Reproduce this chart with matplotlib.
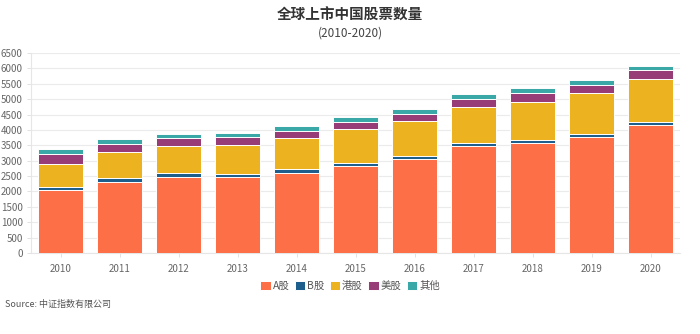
import numpy as np
import matplotlib.pyplot as plt

plt.rcParams['font.family'] = ['Noto Sans CJK SC', 'DejaVu Sans']

years = ['2010', '2011', '2012', '2013', '2014', '2015', '2016', '2017', '2018', '2019', '2020']
a_gu = [2040, 2320, 2480, 2470, 2610, 2830, 3050, 3480, 3570, 3760, 4150]
b_gu = [108, 108, 107, 106, 104, 101, 100, 100, 99, 97, 93]
gang_gu = [760, 840, 890, 950, 1010, 1090, 1130, 1170, 1250, 1330, 1420]
mei_gu = [300, 270, 250, 230, 250, 250, 250, 260, 290, 280, 300]
qita = [160, 160, 140, 150, 140, 140, 140, 160, 150, 140, 120]

series = [('A股', a_gu, '#fd6f47'),
          ('B股', b_gu, '#1d5e8c'),
          ('港股', gang_gu, '#edb21f'),
          ('美股', mei_gu, '#983c77'),
          ('其他', qita, '#3aa8a6')]

fig = plt.figure(figsize=(7, 3.34), dpi=100)
ax = fig.add_axes([31/700, 1 - 253/334, 649/700, 200/334])

x = np.arange(len(years))
bottom = np.zeros(len(years))
for name, vals, col in series:
    ax.bar(x, vals, 0.76, bottom=bottom, color=col, edgecolor='white', linewidth=0.7, label=name, zorder=3)
    bottom += np.array(vals)

ax.set_xlim(-0.5, len(years) - 0.5)
ax.set_ylim(0, 6500)
ax.set_yticks(np.arange(0, 6501, 500))
ax.set_xticks(x)
ax.set_xticklabels(years)
ax.tick_params(axis='both', labelsize=7, colors='#666666', length=3, width=0.6)
ax.tick_params(axis='y', pad=3)
ax.tick_params(axis='x', pad=5)
ax.grid(axis='y', color='#ebebeb', linewidth=0.8, zorder=0)
for s in ['top', 'right']:
    ax.spines[s].set_visible(False)
ax.spines['left'].set_color('#e6e6e6')
ax.spines['bottom'].set_color('#e6e6e6')
ax.tick_params(axis='both', color='#dddddd')

fig.text(0.5, 1 - 15/334, '全球上市中国股票数量', ha='center', va='center', fontsize=10.5, fontweight='bold', color='#333333')
fig.text(0.5, 1 - 33/334, '(2010-2020)', ha='center', va='center', fontsize=8.5, color='#444444')
fig.text(5/700, 1 - 304/334, 'Source: 中证指数有限公司', ha='left', va='center', fontsize=6.5, color='#555555')

leg = fig.legend(loc='center', bbox_to_anchor=(0.5, 1 - 286/334), ncol=5, frameon=False,
                 fontsize=7.5, handlelength=1.0, handleheight=1.0, handletextpad=0.2, columnspacing=0.5)
for t in leg.get_texts():
    t.set_color('#555555')

fig.savefig('out.png', dpi=100)
